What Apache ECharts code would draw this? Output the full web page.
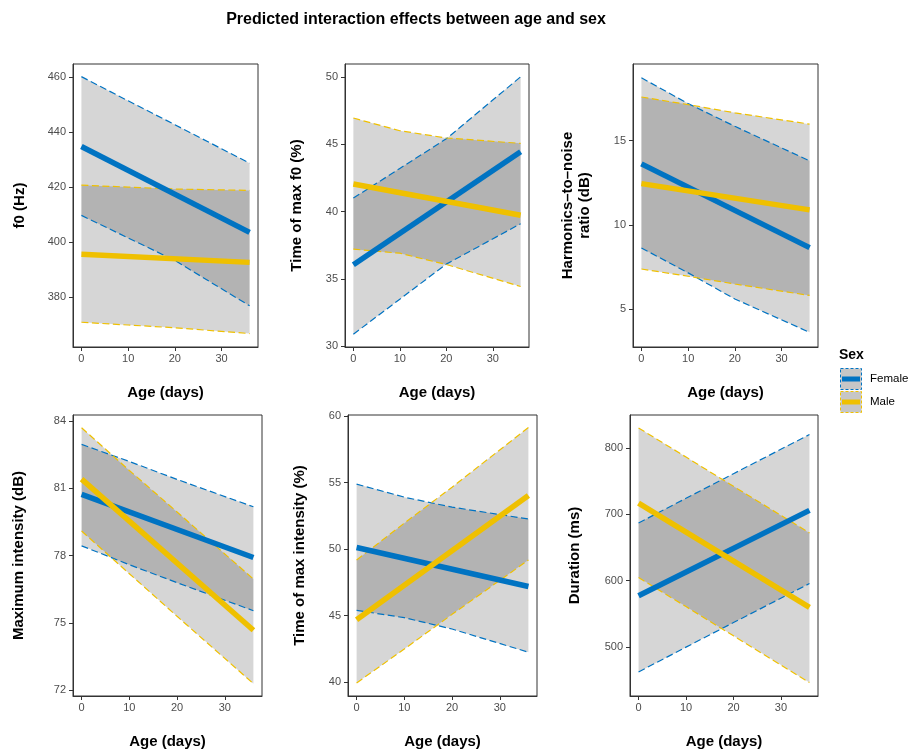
<!DOCTYPE html>
<html><head><meta charset="utf-8">
<script src="https://cdn.jsdelivr.net/npm/echarts@6/dist/echarts.min.js"></script>
<style>html,body{margin:0;padding:0;background:#fff}#c{width:910px;height:751px}</style>
</head><body><div id="c"></div>
<script>
// ---------- data ----------
const AGES = [0, 10, 20, 36];
const AGE_ENDS = [0, 36];
const AGE_TICKS = [0, 10, 20, 30];

// f0 (Hz)
const F0_TICKS = [380, 400, 420, 440, 460];
const F0_FEMALE_FIT = [434.8, 403.5];
const F0_FEMALE_HI = [460.2, 451.4, 442.7, 428.7];
const F0_FEMALE_LO = [409.7, 401.5, 393.3, 376.8];
const F0_MALE_FIT = [395.6, 392.6];
const F0_MALE_HI = [420.7, 420.0, 419.3, 418.8];
const F0_MALE_LO = [370.8, 369.8, 368.8, 366.7];

// Time of max f0 (%)
const TMF0_TICKS = [30, 35, 40, 45, 50];
const TMF0_FEMALE_FIT = [36.05, 44.44];
const TMF0_FEMALE_HI = [41.0, 43.2, 45.4, 50.0];
const TMF0_FEMALE_LO = [30.9, 33.5, 36.1, 39.1];
const TMF0_MALE_FIT = [42.05, 39.73];
const TMF0_MALE_HI = [46.94, 46.0, 45.46, 45.06];
const TMF0_MALE_LO = [37.21, 36.91, 36.07, 34.44];

// Harmonics-to-noise ratio (dB)
const HNR_TICKS = [5, 10, 15];
const HNR_FEMALE_FIT = [13.62, 8.65];
const HNR_FEMALE_HI = [18.73, 17.2, 15.85, 13.8];
const HNR_FEMALE_LO = [8.63, 7.15, 5.6, 3.62];
const HNR_MALE_FIT = [12.45, 10.89];
const HNR_MALE_HI = [17.59, 17.14, 16.65, 15.98];
const HNR_MALE_LO = [7.38, 6.95, 6.49, 5.81];

// Maximum intensity (dB)
const MI_TICKS = [72, 75, 78, 81, 84];
const MI_FEMALE_FIT = [80.73, 77.92];
const MI_FEMALE_HI = [82.96, 82.2, 81.4, 80.18];
const MI_FEMALE_LO = [78.44, 77.6, 76.8, 75.55];
const MI_MALE_FIT = [81.41, 74.68];
const MI_MALE_HI = [83.70, 81.8, 79.95, 76.96];
const MI_MALE_LO = [79.10, 77.2, 75.3, 72.30];

// Time of max intensity (%)
const TMI_TICKS = [40, 45, 50, 55, 60];
const TMI_FEMALE_FIT = [50.12, 47.19];
const TMI_FEMALE_HI = [54.88, 53.9, 53.15, 52.26];
const TMI_FEMALE_LO = [45.40, 44.85, 44.0, 42.26];
const TMI_MALE_FIT = [44.70, 54.03];
const TMI_MALE_HI = [49.18, 51.95, 54.65, 59.13];
const TMI_MALE_LO = [39.95, 42.5, 45.1, 49.18];

// Duration (ms)
const DUR_TICKS = [500, 600, 700, 800];
const DUR_FEMALE_FIT = [577.3, 705.8];
const DUR_FEMALE_HI = [686.9, 724, 761, 819.9];
const DUR_FEMALE_LO = [462.7, 500, 537, 595.7];
const DUR_MALE_FIT = [716.8, 559.8];
const DUR_MALE_HI = [829.9, 786, 742, 671.9];
const DUR_MALE_LO = [604.7, 561, 517, 446.7];

const SEX_LABELS = ['Female', 'Male'];

// ---------- styles / layout ----------
const FEMALE_COLOR = '#0073C2';
const MALE_COLOR = '#EFC000';
const BAND_FILL = 'rgba(0,0,0,0.16)';
const FONT = '"Liberation Sans", Arial, Helvetica, sans-serif';

const panels = [
  {title: 'f0 (Hz)', ticks: F0_TICKS, yMin: 361.8, yMax: 464.8,
   f: [F0_FEMALE_FIT, F0_FEMALE_LO, F0_FEMALE_HI], m: [F0_MALE_FIT, F0_MALE_LO, F0_MALE_HI],
   grid: {left: 73, top: 64, width: 185, height: 283}, nameGap: 45},
  {title: 'Time of max f0 (%)', ticks: TMF0_TICKS, yMin: 29.95, yMax: 50.95,
   f: [TMF0_FEMALE_FIT, TMF0_FEMALE_LO, TMF0_FEMALE_HI], m: [TMF0_MALE_FIT, TMF0_MALE_LO, TMF0_MALE_HI],
   grid: {left: 345, top: 64, width: 184, height: 283}, nameGap: 40},
  {title: 'Harmonics\u2013to\u2013noise\nratio (dB)', ticks: HNR_TICKS, yMin: 2.75, yMax: 19.55,
   f: [HNR_FEMALE_FIT, HNR_FEMALE_LO, HNR_FEMALE_HI], m: [HNR_MALE_FIT, HNR_MALE_LO, HNR_MALE_HI],
   grid: {left: 633, top: 64, width: 185, height: 283}, nameGap: 40},
  {title: 'Maximum intensity (dB)', ticks: MI_TICKS, yMin: 71.75, yMax: 84.27,
   f: [MI_FEMALE_FIT, MI_FEMALE_LO, MI_FEMALE_HI], m: [MI_MALE_FIT, MI_MALE_LO, MI_MALE_HI],
   grid: {left: 73, top: 415, width: 189, height: 282}, nameGap: 46},
  {title: 'Time of max intensity (%)', ticks: TMI_TICKS, yMin: 38.97, yMax: 60.07,
   f: [TMI_FEMALE_FIT, TMI_FEMALE_LO, TMI_FEMALE_HI], m: [TMI_MALE_FIT, TMI_MALE_LO, TMI_MALE_HI],
   grid: {left: 348, top: 415, width: 189, height: 282}, nameGap: 40},
  {title: 'Duration (ms)', ticks: DUR_TICKS, yMin: 426.5, yMax: 849.3,
   f: [DUR_FEMALE_FIT, DUR_FEMALE_LO, DUR_FEMALE_HI], m: [DUR_MALE_FIT, DUR_MALE_LO, DUR_MALE_HI],
   grid: {left: 630, top: 415, width: 188, height: 282}, nameGap: 47}
];

const axisCommon = {
  type: 'value',
  axisLine: {show: true, onZero: false, lineStyle: {color: '#333', width: 1}},
  axisTick: {show: true, length: 4, lineStyle: {color: '#333', width: 1}},
  splitLine: {show: false},
  nameLocation: 'middle',
  nameTextStyle: {fontFamily: FONT, fontWeight: 'bold', fontSize: 15, color: '#000', lineHeight: 17}
};

function bandSeries(i, lo, hi) {
  const data = AGES.map((a, k) => [a, lo[k], hi[k]]);
  return {
    type: 'custom', xAxisIndex: i, yAxisIndex: i, data: data, silent: true, z: 1,
    encode: {x: 0, y: [1, 2]},
    renderItem: function (params, api) {
      if (params.dataIndex !== 0) return null;
      const top = data.map(d => api.coord([d[0], d[2]]));
      const bot = data.map(d => api.coord([d[0], d[1]])).reverse();
      return {type: 'polygon', shape: {points: top.concat(bot)}, style: {fill: BAND_FILL}};
    }
  };
}
function dashSeries(i, vals, color) {
  return {
    type: 'line', xAxisIndex: i, yAxisIndex: i, silent: true, z: 2,
    data: AGES.map((a, k) => [a, vals[k]]), symbol: 'none',
    lineStyle: {color: color, width: 1.2, type: [7, 3.5]}
  };
}
function fitSeries(i, vals, color) {
  return {
    type: 'line', xAxisIndex: i, yAxisIndex: i, silent: true, z: 3,
    data: AGE_ENDS.map((a, k) => [a, vals[k]]), symbol: 'none',
    lineStyle: {color: color, width: 5.5, cap: 'butt'}
  };
}

const grids = [], xAxes = [], yAxes = [], series = [];
panels.forEach((p, i) => {
  grids.push(Object.assign({show: true, borderColor: '#333', borderWidth: 1, backgroundColor: 'transparent', containLabel: false}, p.grid));
  xAxes.push(Object.assign({}, axisCommon, {
    gridIndex: i, min: -1.8, max: 37.8, name: 'Age (days)', nameGap: 37,
    axisTick: Object.assign({}, axisCommon.axisTick, {customValues: AGE_TICKS}),
    axisLabel: {customValues: AGE_TICKS, color: '#4D4D4D', fontSize: 11, fontFamily: FONT, margin: 6}
  }));
  yAxes.push(Object.assign({}, axisCommon, {
    gridIndex: i, min: p.yMin, max: p.yMax, name: p.title, nameGap: p.nameGap,
    axisTick: Object.assign({}, axisCommon.axisTick, {customValues: p.ticks}),
    axisLabel: {customValues: p.ticks, color: '#4D4D4D', fontSize: 11, fontFamily: FONT, margin: 7}
  }));
  series.push(bandSeries(i, p.f[1], p.f[2]));
  series.push(bandSeries(i, p.m[1], p.m[2]));
  series.push(dashSeries(i, p.f[2], FEMALE_COLOR));
  series.push(dashSeries(i, p.f[1], FEMALE_COLOR));
  series.push(dashSeries(i, p.m[2], MALE_COLOR));
  series.push(dashSeries(i, p.m[1], MALE_COLOR));
  series.push(fitSeries(i, p.f[0], FEMALE_COLOR));
  series.push(fitSeries(i, p.m[0], MALE_COLOR));
});

function legendKey(y, color, label) {
  return [
    {type: 'rect', shape: {x: 840.5, y: y - 10.5, width: 21, height: 21},
     style: {fill: '#C6C6C6', stroke: color, lineWidth: 1, lineDash: [3, 2]}},
    {type: 'line', shape: {x1: 842, y1: y, x2: 860, y2: y},
     style: {stroke: color, lineWidth: 5}},
    {type: 'text', x: 870, y: y, style: {text: label, font: '11.5px ' + FONT, fill: '#000', verticalAlign: 'middle'}}
  ];
}

const chart = echarts.init(document.getElementById('c'), null, {renderer: 'canvas'});
chart.setOption({
  animation: false,
  backgroundColor: '#fff',
  grid: grids, xAxis: xAxes, yAxis: yAxes, series: series,
  graphic: [
    {type: 'text', x: 416, y: 20, style: {text: 'Predicted interaction effects between age and sex',
      font: 'bold 16px ' + FONT, fill: '#000', align: 'center', verticalAlign: 'middle'}},
    {type: 'text', x: 839, y: 355, style: {text: 'Sex', font: 'bold 14px ' + FONT, fill: '#000', verticalAlign: 'middle'}}
  ].concat(legendKey(379, FEMALE_COLOR, SEX_LABELS[0]), legendKey(402, MALE_COLOR, SEX_LABELS[1]))
});
</script></body></html>
